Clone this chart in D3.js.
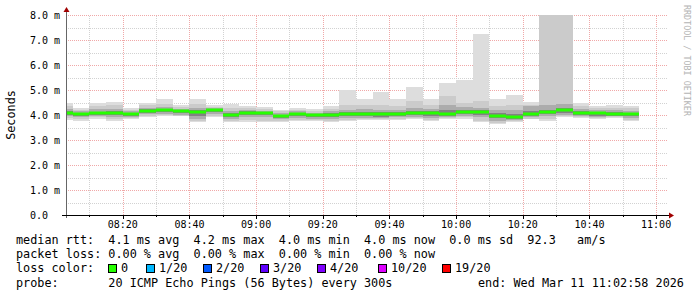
<!DOCTYPE html>
<html>
<head>
<meta charset="utf-8">
<title>smokeping latency</title>
<script src="https://cdnjs.cloudflare.com/ajax/libs/d3/7.8.5/d3.min.js"></script>
<style>
body { margin: 0; background: #fff; }
text { font-family: "DejaVu Sans Mono", monospace; }
</style>
</head>
<body>
<div id="chart"></div>
<script>
// end time of each 5 minute step (300s)
var steps = ["08:05","08:10","08:15","08:20","08:25","08:30","08:35","08:40","08:45","08:50",
  "08:55","09:00","09:05","09:10","09:15","09:20","09:25","09:30","09:35","09:40",
  "09:45","09:50","09:55","10:00","10:05","10:10","10:15","10:20","10:25","10:30",
  "10:35","10:40","10:45","10:50","10:55"];
// median rtt (ms)
var median = [4.10,4.05,4.08,4.10,4.05,4.18,4.20,4.15,4.12,4.21,4.02,4.10,4.08,3.96,4.03,4.00,4.01,4.03,4.03,4.03,
  4.05,4.10,4.07,4.06,4.14,4.12,3.98,3.92,4.03,4.13,4.20,4.08,4.07,4.05,4.03];
// smoke: outer pair (min / max ping)
var hi1 = [4.50,4.28,4.49,4.51,4.29,4.49,4.62,4.42,4.62,4.42,4.45,4.38,4.33,4.22,4.30,4.25,4.38,5.00,4.62,4.92,
  4.62,5.12,4.62,5.27,5.40,7.24,4.62,4.82,4.51,8.30,8.30,4.49,4.38,4.42,4.35];
var lo1 = [3.80,3.75,3.85,3.75,3.85,3.93,3.95,3.95,3.71,3.93,3.71,3.73,3.71,3.72,3.75,3.75,3.71,3.75,3.80,3.80,
  3.80,3.82,3.75,3.85,3.85,3.71,3.66,3.72,3.82,3.75,3.90,3.88,3.85,3.88,3.75];
// second pair
var hi2 = [4.38,4.22,4.38,4.40,4.22,4.40,4.45,4.32,4.45,4.32,4.30,4.28,4.25,4.15,4.22,4.18,4.25,4.40,4.42,4.42,
  4.35,4.55,4.40,4.78,4.50,4.55,4.35,4.40,4.40,8.30,8.30,4.35,4.28,4.30,4.28];
var lo2 = [3.88,3.82,3.90,3.83,3.89,3.98,4.00,3.98,3.78,3.98,3.76,3.80,3.78,3.77,3.80,3.80,3.77,3.80,3.84,3.84,
  3.85,3.87,3.80,3.89,3.91,3.78,3.70,3.76,3.86,3.82,3.95,3.91,3.88,3.91,3.80];
// third pair
var hi3 = [4.25,4.15,4.25,4.25,4.15,4.30,4.32,4.25,4.30,4.28,4.18,4.20,4.18,4.08,4.15,4.10,4.15,4.22,4.25,4.22,
  4.20,4.30,4.25,4.40,4.32,4.30,4.20,4.22,4.35,4.40,4.45,4.25,4.20,4.22,4.18];
var lo3 = [3.95,3.90,3.95,3.92,3.93,4.03,4.05,4.02,3.85,4.05,3.82,3.92,3.90,3.82,3.88,3.86,3.83,3.87,3.88,3.88,
  3.90,3.93,3.88,3.93,3.98,3.90,3.78,3.80,3.90,3.95,4.02,3.95,3.92,3.95,3.88];
// inner pair
var hi4 = [4.16,4.10,4.14,4.16,4.10,4.24,4.26,4.20,4.20,4.25,4.10,4.15,4.13,4.02,4.09,4.05,4.08,4.12,4.12,4.12,
  4.12,4.18,4.15,4.20,4.22,4.20,4.08,4.05,4.15,4.22,4.28,4.15,4.13,4.12,4.10];
var lo4 = [4.02,3.98,4.00,4.02,3.98,4.10,4.12,4.08,3.95,4.13,3.92,4.02,4.00,3.88,3.96,3.93,3.92,3.95,3.95,3.90,
  3.96,4.00,3.98,3.97,4.05,4.02,3.88,3.82,3.95,4.05,4.10,4.00,3.98,3.98,3.95];

var yTicks = [0,1,2,3,4,5,6,7,8];
var yLabels = ["0.0","1.0 m","2.0 m","3.0 m","4.0 m","5.0 m","6.0 m","7.0 m","8.0 m"];
var xTicks = ["08:20","08:40","09:00","09:20","09:40","10:00","10:20","10:40","11:00"];
var lossLabels = ["0","1/20","2/20","3/20","4/20","10/20","19/20"];
var lossColors = ["#26ff00","#00b8ff","#0059ff","#5e00ff","#7e00ff","#dd00ff","#ff0000"];
var lossX = [108,146,203,260,317,378,442];

var W = 697, H = 297;
var parse = d3.timeParse("%H:%M:%S");
var t0 = parse("08:02:58"), t1 = parse("11:02:58");

var svg = d3.select("#chart").append("svg")
    .attr("width", W).attr("height", H);
svg.append("rect").attr("width", W).attr("height", H).attr("fill", "#fff");

var x = d3.scaleTime().domain([t0, t1]).range([66, 666]);
var y = d3.scaleLinear().domain([0, 8]).range([215, 15]);

var g = svg.append("g");

// grid, minor then major
var minorX = d3.timeMinute.every(10).range(t0, t1);
var minorY = d3.range(0.5, 8.01, 0.5);

g.selectAll(".gx").data(minorX).enter().append("line")
  .attr("x1", d => Math.round(x(d)) + 0.5).attr("x2", d => Math.round(x(d)) + 0.5)
  .attr("y1", 215).attr("y2", 15)
  .attr("stroke", d => d.getMinutes() % 20 == 0 ? "#f0a8a8" : "#d2d2d2")
  .attr("stroke-dasharray", "1,1");
g.selectAll(".gy").data(minorY).enter().append("line")
  .attr("x1", 66).attr("x2", 668)
  .attr("y1", d => Math.round(y(d)) + 0.5).attr("y2", d => Math.round(y(d)) + 0.5)
  .attr("stroke", d => d % 1 == 0 ? "#f0a8a8" : "#d2d2d2")
  .attr("stroke-dasharray", "1,1");

// smoke bars
var tp = d3.timeParse("%H:%M");
var bars = steps.map(function(s, i) {
  var e = parse(s + ":00");
  var b = new Date(+e - 300000);
  return {x0: b < t0 ? t0 : b, x1: e, i: i};
});
var layers = [[lo1, hi1, "#dddddd"], [lo2, hi2, "#cbcbcb"], [lo3, hi3, "#acacac"], [lo4, hi4, "#828282"]];
function cy(v) { return y(Math.min(v, 8)); }
layers.forEach(function(L) {
  g.append("g").selectAll("rect").data(bars).enter().append("rect")
    .attr("x", d => Math.round(x(d.x0)))
    .attr("width", d => Math.round(x(d.x1)) - Math.round(x(d.x0)))
    .attr("y", d => Math.round(cy(L[1][d.i])))
    .attr("height", d => Math.round(cy(L[0][d.i])) - Math.round(cy(L[1][d.i])))
    .attr("fill", L[2]);
});
// median
g.append("g").selectAll("rect").data(bars).enter().append("rect")
  .attr("x", d => Math.round(x(d.x0)))
  .attr("width", d => Math.round(x(d.x1)) - Math.round(x(d.x0)))
  .attr("y", d => Math.round(y(median[d.i])) - 1.5)
  .attr("height", 3)
  .attr("fill", lossColors[0]);

// axes
svg.append("line").attr("x1", 66.5).attr("x2", 66.5).attr("y1", 218).attr("y2", 11)
  .attr("stroke", "#666");
svg.append("line").attr("x1", 62).attr("x2", 670).attr("y1", 215.5).attr("y2", 215.5)
  .attr("stroke", "#000");
svg.append("path").attr("d", "M63.5,12 L66.5,7 L69.5,12 Z").attr("fill", "#a00000");
svg.append("path").attr("d", "M669,212.5 L674,215.5 L669,218.5 Z").attr("fill", "#a00000");

// tick marks below x axis
svg.selectAll(".tx").data(minorX).enter().append("line")
  .attr("x1", d => Math.round(x(d)) + 0.5).attr("x2", d => Math.round(x(d)) + 0.5)
  .attr("y1", 216).attr("y2", d => d.getMinutes() % 20 == 0 ? 219 : 217)
  .attr("stroke", "#000");

// tick labels
svg.selectAll(".yl").data(yTicks).enter().append("text")
  .attr("x", 30).attr("y", d => y(d) + 3.5)
  .attr("font-size", "10px").attr("fill", "#000")
  .style("white-space", "pre")
  .text((d, i) => yLabels[i]);
svg.selectAll(".xl").data(xTicks).enter().append("text")
  .attr("x", d => x(tp(d))).attr("y", 228)
  .attr("text-anchor", "middle")
  .attr("font-size", "10px").attr("fill", "#000")
  .text(d => d);

// titles
svg.append("text").attr("transform", "translate(15,115) rotate(-90)")
  .attr("text-anchor", "middle").attr("font-size", "11.8px").text("Seconds");
svg.append("text").attr("transform", "translate(684,5) rotate(90)")
  .attr("font-size", "8.4px").attr("fill", "#b4b4b4").text("RRDTOOL / TOBI OETIKER");

// legend
var legend = [
  "median rtt:  4.1 ms avg  4.2 ms max  4.0 ms min  4.0 ms now  0.0 ms sd  92.3   am/s",
  "packet loss: 0.00 % avg  0.00 % max  0.00 % min  0.00 % now",
  "loss color:",
  "probe:       20 ICMP Echo Pings (56 Bytes) every 300s"
];
svg.selectAll(".lg").data(legend).enter().append("text")
  .attr("x", 16).attr("y", (d, i) => 244 + i * 14.2)
  .attr("font-size", "11.8px").style("white-space", "pre").attr("xml:space", "preserve")
  .text(d => d);
svg.append("text").attr("x", 478).attr("y", 244 + 3 * 14.2)
  .attr("font-size", "11.8px").text("end: Wed Mar 11 11:02:58 2026");

lossLabels.forEach(function(l, i) {
  svg.append("rect").attr("x", lossX[i] + 0.5).attr("y", 264.5)
    .attr("width", 8).attr("height", 8)
    .attr("fill", lossColors[i]).attr("stroke", "#000");
  svg.append("text").attr("x", lossX[i] + 13).attr("y", 244 + 2 * 14.2)
    .attr("font-size", "11.8px").text(l);
});
</script>
</body>
</html>
